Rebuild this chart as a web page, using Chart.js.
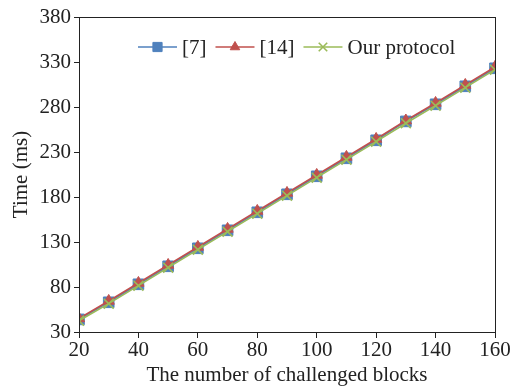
<!DOCTYPE html>
<html>
<head>
<meta charset="utf-8">
<script src="https://cdn.jsdelivr.net/npm/chart.js@4"></script>
<style>
  html, body { margin: 0; padding: 0; background: #fff; }
  #wrap { width: 517px; height: 389px; }
</style>
</head>
<body>
<div id="wrap"><canvas id="c" width="517" height="389"></canvas></div>
<script>
// data
const blocks = [20, 30, 40, 50, 60, 70, 80, 90, 100, 110, 120, 130, 140, 150, 160];
const ref7 = [44, 63, 83, 103, 123, 143, 163, 183, 203, 223, 243, 264, 283, 303, 323];
const ref14 = [45, 64.5, 84.5, 104.5, 124.5, 144.5, 164.5, 184.5, 204.5, 224.5, 244.5, 265, 284.5, 304.5, 324.5];
const ours = [42.5, 61.5, 81.5, 101.5, 121.5, 141.5, 161.5, 181.5, 201.5, 221.5, 241.5, 262, 281.5, 301.5, 321.5];
const seriesNames = ['[7]', '[14]', 'Our protocol'];

const FONT = "'Liberation Serif', 'Times New Roman', serif";
const colors = ['#4F81BD', '#C0504D', '#9BBB59'];
const markers = ['rect', 'triangle', 'crossRot'];
const radii = [7.5, 6.5, 7];

function pts(arr) {
    return arr.map((v, i) => ({ x: blocks[i], y: v }));
}

const datasets = [ref7, ref14, ours].map((arr, i) => ({
    label: seriesNames[i],
    data: pts(arr),
    order: 3 - i,
    borderColor: colors[i],
    backgroundColor: colors[i],
    borderWidth: 1.6,
    pointStyle: markers[i],
    pointRadius: radii[i],
    pointBorderWidth: i === 2 ? 1.6 : 1,
    pointBackgroundColor: colors[i],
    pointBorderColor: colors[i],
    tension: 0
}));

// frame + line/marker legend drawn on canvas
const framePlugin = {
    id: 'frame',
    afterDraw(chart) {
        const { ctx, chartArea: a } = chart;
        ctx.save();
        ctx.strokeStyle = '#222';
        ctx.lineWidth = 1;
        ctx.strokeRect(Math.round(a.left) + 0.5, Math.round(a.top) + 0.5,
            Math.round(a.right - a.left), Math.round(a.bottom - a.top));

        // legend
        ctx.font = '21px ' + FONT;
        ctx.textBaseline = 'middle';
        let x = 138;
        const y = 47;
        chart.data.datasets.forEach((ds) => {
            ctx.strokeStyle = ds.borderColor;
            ctx.lineWidth = 1.5;
            ctx.beginPath();
            ctx.moveTo(x, y);
            ctx.lineTo(x + 39, y);
            ctx.stroke();
            ctx.fillStyle = ds.borderColor;
            ctx.lineWidth = ds.pointBorderWidth;
            Chart.helpers.drawPoint(ctx, {
                pointStyle: ds.pointStyle,
                radius: ds.pointRadius - 1,
                rotation: 0,
                borderWidth: ds.pointBorderWidth
            }, x + 19.5, y);
            ctx.fillStyle = '#222';
            ctx.fillText(ds.label, x + 44, y + 1);
            x += 44 + ctx.measureText(ds.label).width + 9;
        });
        ctx.restore();
    }
};

new Chart(document.getElementById('c'), {
    type: 'line',
    data: { datasets: datasets },
    plugins: [framePlugin],
    options: {
        responsive: false,
        animation: false,
        layout: { padding: { top: 17, right: 22, left: 0, bottom: 0 } },
        plugins: {
            legend: { display: false },
            tooltip: { enabled: false }
        },
        scales: {
            x: {
                type: 'linear',
                min: 20,
                max: 160,
                afterFit(s) { s.height = 57; },
                ticks: { stepSize: 20, color: '#222', font: { family: FONT, size: 21 }, padding: 0 },
                grid: { drawOnChartArea: false, tickLength: 6, color: '#222' },
                border: { color: '#222' },
                title: {
                    display: true,
                    text: 'The number of challenged blocks',
                    color: '#222',
                    font: { family: FONT, size: 21 },
                    padding: { top: 0, bottom: 1 }
                }
            },
            y: {
                min: 30,
                max: 380,
                afterFit(s) { s.width = 79; },
                ticks: { stepSize: 50, color: '#222', font: { family: FONT, size: 21 }, padding: 3 },
                grid: { drawOnChartArea: false, tickLength: 5, color: '#222' },
                border: { color: '#222' },
                title: {
                    display: true,
                    text: 'Time (ms)',
                    color: '#222',
                    font: { family: FONT, size: 21 },
                    padding: { top: 9, bottom: 0 }
                }
            }
        }
    }
});
</script>
</body>
</html>
